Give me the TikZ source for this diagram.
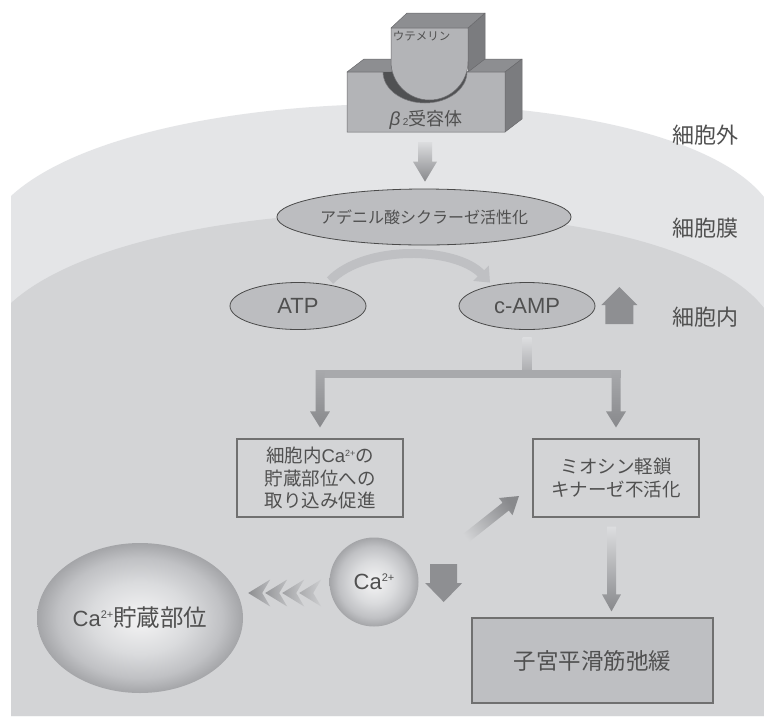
\documentclass[tikz,border=0pt]{standalone}
\usepackage{fontspec}
\setmainfont{Noto Sans CJK JP}
\newfontfamily\lat{Liberation Sans}
\usetikzlibrary{arrows.meta,shapes.geometric,calc}

\definecolor{txt}{HTML}{505050}
\definecolor{memb}{HTML}{E4E5E7}
\definecolor{cyto}{HTML}{D3D4D6}
\definecolor{ellf}{HTML}{BCBDC0}
\definecolor{edgec}{HTML}{4A4A4A}
\definecolor{boxe}{HTML}{707070}
\definecolor{b3fill}{HTML}{BEBFC2}
\definecolor{arrd}{HTML}{88898C}
\definecolor{arrl}{HTML}{DCDDDF}
\definecolor{arrs}{HTML}{8E8F92}
\definecolor{barc}{HTML}{A8A9AC}
\definecolor{curvec}{HTML}{BFC0C3}
\definecolor{rfront}{HTML}{B3B4B7}
\definecolor{rtop}{HTML}{8D8E91}
\definecolor{rside}{HTML}{7B7C7F}
\definecolor{groove}{HTML}{505153}
\definecolor{redge}{HTML}{6A6A6D}
\definecolor{ballin}{HTML}{EEEEEF}
\definecolor{ballq}{HTML}{DADBDD}
\definecolor{ballm}{HTML}{C0C1C4}
\definecolor{ballout}{HTML}{A4A5A8}

\pgfdeclareradialshading{calball}{\pgfpoint{0bp}{0bp}}{color(0bp)=(ballin); color(3bp)=(ballin); color(12bp)=(ballq); color(20bp)=(ballm); color(25bp)=(ballout); color(50bp)=(ballout)}

\tikzset{
  every node/.style={text=txt, inner sep=0pt},
  ell/.style={ellipse, draw=edgec, line width=0.8pt, fill=ellf},
  boxn/.style={rectangle, draw=boxe, line width=1.2pt, align=center},
  lbl/.style={font=\fontsize{22}{22}\selectfont},
  rface/.style={draw=redge, line width=0.5pt, line join=round},
  ball/.style={shade, shading=calball},
}

\newcommand\supt[2]{\raisebox{#2}{\fontsize{#1}{#1}\selectfont\lat 2+}}
% downward fat arrow: start, tip, shaft half width, head half width, head length, top colour, bottom colour
\newcommand\dnarrow[7]{%
  \shade[top color=#6, bottom color=#7] let \p1=(#1), \p2=(#2) in
    (\x1-#3,\y1) -- (\x1+#3,\y1) -- (\x1+#3,\y2+#5) -- (\x1+#4,\y2+#5) --
    (\x1,\y2) -- (\x1-#4,\y2+#5) -- (\x1-#3,\y2+#5) -- cycle;}

\begin{document}
\begin{tikzpicture}[x=1pt,y=-1pt]
\useasboundingbox (0,0) rectangle (764,716);
\fill[white] (0,0) rectangle (764,716);

% cell regions
\begin{scope}
  \clip (11,0) rectangle (764,716);
  \fill[memb] (11,196) .. controls (145,73) and (665,73) .. (764,197) -- (764,716) -- (11,716) -- cycle;
  \fill[cyto] (11,303) .. controls (145,181) and (665,181) .. (764,308) -- (764,716) -- (11,716) -- cycle;
\end{scope}

% receptor block
\filldraw[rface, fill=rtop] (347,72) -- (364,59) -- (407,59) -- (391,72) -- cycle;
\filldraw[rface, fill=rtop] (467,72) -- (484,59) -- (522,59) -- (505,72) -- cycle;
\filldraw[rface, fill=rside] (505,72) -- (522,59) -- (522,119) -- (505,132) -- cycle;
\fill[groove] (383,72) .. controls (383,89.1) and (401.8,103) .. (425,103)
  .. controls (448.2,103) and (467,89.1) .. (467,72) -- cycle;
% ligand block
\filldraw[rface, fill=rside] (468,28) -- (485,13) -- (485,59) -- (468,72) -- cycle;
\filldraw[rface, fill=rtop] (391,28) -- (407,13) -- (485,13) -- (468,28) -- cycle;
\filldraw[rface, fill=rfront] (391,28) -- (468,28) -- (468,61.5)
  .. controls (468,82.8) and (450.8,100) .. (429.5,100)
  .. controls (408.2,100) and (391,82.8) .. (391,61.5) -- cycle;
% base front face with groove
\filldraw[rface, fill=rfront] (347,72) -- (383,72) .. controls (383,89.1) and (401.8,103) .. (425,103)
  .. controls (448.2,103) and (467,89.1) .. (467,72) -- (505,72) -- (505,132) -- (347,132) -- cycle;

\node[font=\fontsize{11.5}{11.5}\selectfont] (lig) at (421.5,36.5) {ウテメリン};
\node (rec) at (426,120) {{\lat\itshape\fontsize{19}{19}\selectfont β}\hspace{2.5pt}{\lat\fontsize{10}{10}\selectfont 2}{\fontsize{18}{18}\selectfont 受容体}};
\coordinate (recb) at (425,132);

% region labels
\node[lbl] (lout) at (705,135) {細胞外};
\node[lbl] (lmem) at (705,228) {細胞膜};
\node[lbl] (lin) at (705,317) {細胞内};

% nodes
\node[ell, minimum width=240pt, minimum height=56pt, font=\fontsize{16}{16}\selectfont] (ac) at (424,217) {アデニル酸シクラーゼ活性化};
\node[ell, minimum width=136pt, minimum height=47pt, font=\lat\fontsize{22}{22}\selectfont] (atp) at (298,306) {ATP};
\node[ell, minimum width=136pt, minimum height=47pt, font=\lat\fontsize{22}{22}\selectfont] (camp) at (527,306) {c-AMP};
\node[boxn, minimum width=166pt, minimum height=78pt, font=\fontsize{18.5}{22.5}\selectfont] (box1) at (320,478)
  {細胞内{\lat Ca}\supt{9}{6.5pt}の\\貯蔵部位への\\取り込み促進};
\node[boxn, minimum width=166pt, minimum height=78pt, font=\fontsize{18.5}{23}\selectfont] (box2) at (616,478)
  {ミオシン軽鎖\\キナーゼ不活化};
\node[boxn, fill=b3fill, minimum width=241pt, minimum height=85pt, font=\fontsize{22.5}{22.5}\selectfont] (box3) at (592.5,660.5)
  {子宮平滑筋弛緩};
\node[circle, ball, minimum size=89pt, font=\lat\fontsize{22}{22}\selectfont] (ca) at (374,582)
  {Ca\supt{11}{8pt}};
\node[ellipse, ball, minimum width=206pt, minimum height=150pt] (store) at (140,618)
  {{\lat\fontsize{22}{22}\selectfont Ca}\supt{11}{8pt}{\fontsize{23.5}{23.5}\selectfont 貯蔵部位}};

% receptor -> adenylate cyclase
\dnarrow{$(recb)+(0,10)$}{$(ac.north)+(0,-7)$}{7pt}{12pt}{20pt}{arrl}{arrd}

% ATP -> c-AMP
\coordinate (c1) at ($(atp.north)+(32,-1.5)$);
\coordinate (c2) at ($(camp.north)+(-37,0.5)$);
\draw[line width=9pt, curvec, -{Triangle[width=21pt,length=13pt]}] (c1) .. controls +(35,-36) and +(-35,-36) .. (c2);

% c-AMP up arrow
\fill[arrs] ($(camp.east)+(10,18)$) -- ++(28,0) -- ++(0,-19) -- ++(4,0) -- ++(-18,-18) -- ++(-18,18) -- ++(4,0) -- cycle;

% branch from c-AMP
\coordinate (bary) at (0,370);
\shade[top color=arrl, bottom color=barc] ($(camp.south)+(-4.5,8)$) rectangle ($(camp.south |- bary)+(4.5,4)$);
\fill[barc] ($(box1.north |- bary)+(-4.5,0)$) rectangle ($(box2.north |- bary)+(4.5,8)$);
\dnarrow{$(box1.north |- bary)$}{$(box1.north)+(0,-11)$}{4.5pt}{10pt}{16pt}{barc}{arrd}
\dnarrow{$(box2.north |- bary)$}{$(box2.north)+(0,-11)$}{4.5pt}{10pt}{16pt}{barc}{arrd}

% box2 -> box3
\dnarrow{$(box2.south)+(-4.5,9)$}{$(box2.south |- box3.north)+(-4.5,-6)$}{4.5pt}{9.5pt}{17pt}{arrl}{arrd}

% Ca -> box2 diagonal
\shade[top color=arrd, bottom color=cyto, shading angle=-52]
  (464.1,545.9) -- (508.8,510.5) -- (512.5,515.2) -- (519,496) -- (498.9,498.0) -- (502.6,502.7) -- (457.9,538.1) -- cycle;

% Ca down arrow
\fill[arrs] ($(ca.east)+(11.5,-18)$) -- ++(27,0) -- ++(0,19) -- ++(5,0) -- ++(-18.5,19) -- ++(-18.5,-19) -- ++(5,0) -- cycle;

% chevrons Ca -> store
\foreach \i/\lc/\rc in {0/95/35, 1/82/28, 2/68/18, 3/55/8} {
  \shade[left color=arrd!\lc!cyto, right color=arrd!\rc!cyto]
    ($(store.east)+(5+17*\i,-25)$) -- ++(22,-13.5) -- ++(-8,13.5) -- ++(8,13.5) -- cycle;
}
\end{tikzpicture}
\end{document}
